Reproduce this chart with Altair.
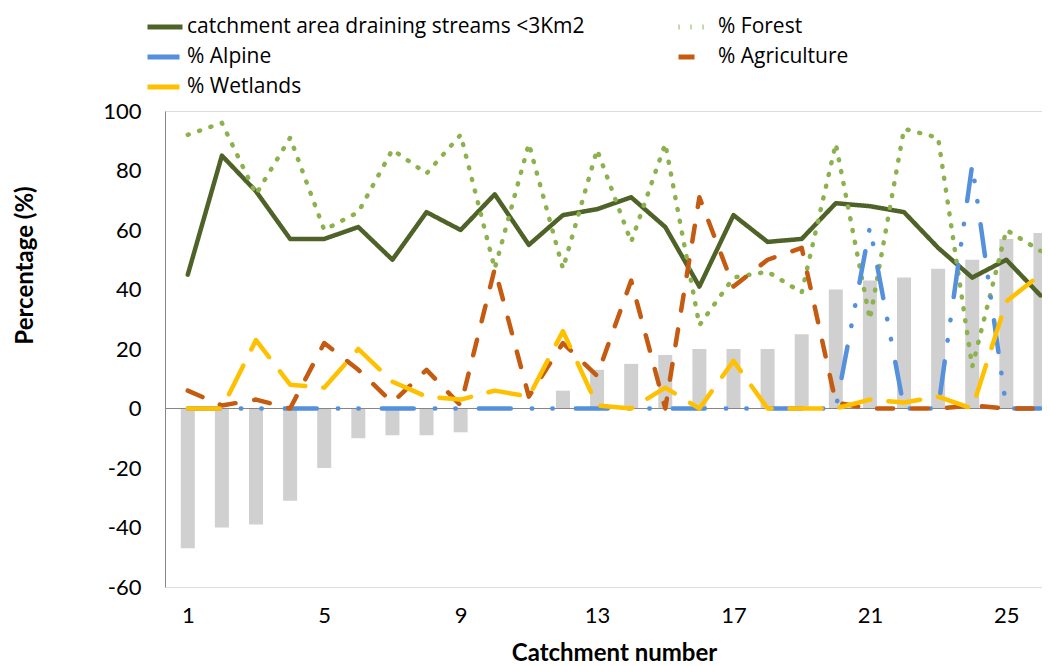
import altair as alt
import pandas as pd

# ---- data ----
catchments = list(range(1, 27))
difference = [-47, -40, -39, -31, -20, -10, -9, -9, -8, 0, 0, 6, 13,
              15, 18, 20, 20, 20, 25, 40, 43, 44, 47, 50, 57, 59]
catchment_area = [45, 85, 73, 57, 57, 61, 50, 66, 60, 72, 55, 65, 67,
                  71, 61, 41, 65, 56, 57, 69, 68, 66, 54, 44, 50, 38]
forest = [92, 96, 72, 91, 60, 66, 87, 79, 92, 47, 89, 47, 87,
          56, 89, 28, 44, 46, 39, 89, 30, 94, 91, 14, 60, 53]
alpine = [0, 0, 0, 0, 0, 0, 0, 0, 0, 0, 0, 0, 0,
          0, 0, 0, 0, 0, 0, 0, 61, 0, 0, 82, 0, 0]
agriculture = [6, 1, 3, 0, 22, 13, 2, 13, 1, 47, 4, 22, 11,
               43, 0, 71, 41, 50, 54, 2, 0, 0, 0, 1, 0, 0]
wetlands = [0, 0, 23, 8, 7, 20, 9, 4, 3, 6, 4, 26, 1,
            0, 7, 0, 16, 0, 0, 0, 3, 2, 4, 0, 36, 45]

series_names = ["catchment area draining streams <3Km2", "% Forest",
                "% Alpine", "% Agriculture", "% Wetlands"]
series_values = [catchment_area, forest, alpine, agriculture, wetlands]
x_ticks = [1, 5, 9, 13, 17, 21, 25]
y_ticks = [-60, -40, -20, 0, 20, 40, 60, 80, 100]

# ---- styles ----
series_colors = {"catchment area draining streams <3Km2": "#4f6228",
                 "% Forest": "#8cb24d", "% Alpine": "#5590dc",
                 "% Agriculture": "#c55a11", "% Wetlands": "#ffc000"}
series_dashes = {"catchment area draining streams <3Km2": [1, 0],
                 "% Forest": [1, 11],
                 "% Alpine": [32, 21, 0.5, 20, 0.5, 23],
                 "% Agriculture": [16, 19],
                 "% Wetlands": [32, 18]}
# legend is filled column by column: this order gives the reference's rows
legend_order = ["catchment area draining streams <3Km2", "% Alpine", "% Wetlands",
                "% Forest", "% Agriculture"]
FONT = "Lato"

bars_df = pd.DataFrame({"catchment": catchments, "value": difference})
rows = []
for name, vals in zip(series_names, series_values):
    for c, v in zip(catchments, vals):
        rows.append({"catchment": c, "value": v, "series": name})
lines_df = pd.DataFrame(rows)

x_scale = alt.Scale(domain=[0.4783, 25.899], nice=False, zero=False)
y_scale = alt.Scale(domain=[-60, 100], nice=False)

x_axis = alt.Axis(values=x_ticks, title="Catchment number", grid=False, ticks=False,
                  domain=False, labelFontSize=22, labelPadding=18, labelColor="black",
                  titleFontSize=24, titleFontWeight="bold", titleColor="black",
                  titlePadding=15, titleX=449, labelFont=FONT, titleFont=FONT)
y_axis = alt.Axis(values=y_ticks, title="Percentage (%)", grid=False, ticks=False,
                  tickSize=0, domain=True, domainColor="#868686", domainWidth=1,
                  labelFontSize=22, labelPadding=24, labelColor="black",
                  labelExpr="'' + datum.value",
                  titleFontSize=24, titleFontWeight="bold", titleColor="black",
                  titleX=-140, titleY=154, titleBaseline="middle",
                  labelFont=FONT, titleFont=FONT)

legend = alt.Legend(title=None, orient="none", legendX=-20, legendY=-104,
                    columns=2, symbolType="stroke", symbolSize=1225,
                    symbolStrokeWidth=5, labelFontSize=21, labelOffset=2,
                    labelLimit=700, labelColor="black", labelFont="Open Sans",
                    columnPadding=83, rowPadding=0, padding=0)

bars = alt.Chart(bars_df).mark_bar(size=14, color="#d0d0d0", clip=True).encode(
    x=alt.X("catchment:Q", scale=x_scale, axis=x_axis),
    y=alt.Y("value:Q", scale=y_scale, axis=y_axis),
)

zero_rule = alt.Chart(bars_df).mark_rule(color="#868686", strokeWidth=1).encode(
    y=alt.datum(0)
)

lines = alt.Chart(lines_df).mark_line(strokeWidth=4.5, strokeCap="round",
                                      strokeJoin="round", clip=True).encode(
    x=alt.X("catchment:Q", scale=x_scale),
    y=alt.Y("value:Q", scale=y_scale),
    color=alt.Color("series:N",
                    scale=alt.Scale(domain=legend_order,
                                    range=[series_colors[n] for n in legend_order]),
                    legend=legend),
    strokeDash=alt.StrokeDash("series:N",
                              scale=alt.Scale(domain=legend_order,
                                              range=[series_dashes[n] for n in legend_order]),
                              legend=legend),
)

chart = alt.layer(bars, zero_rule, lines).properties(
    width=877, height=476,
    autosize=alt.AutoSizeParams(type="none"),
    padding={"left": 157, "top": 103, "right": 0, "bottom": 78},
).configure_view(stroke=None).configure(font=FONT)

chart.save("out.html", embed_options={"renderer": "svg", "actions": False})
